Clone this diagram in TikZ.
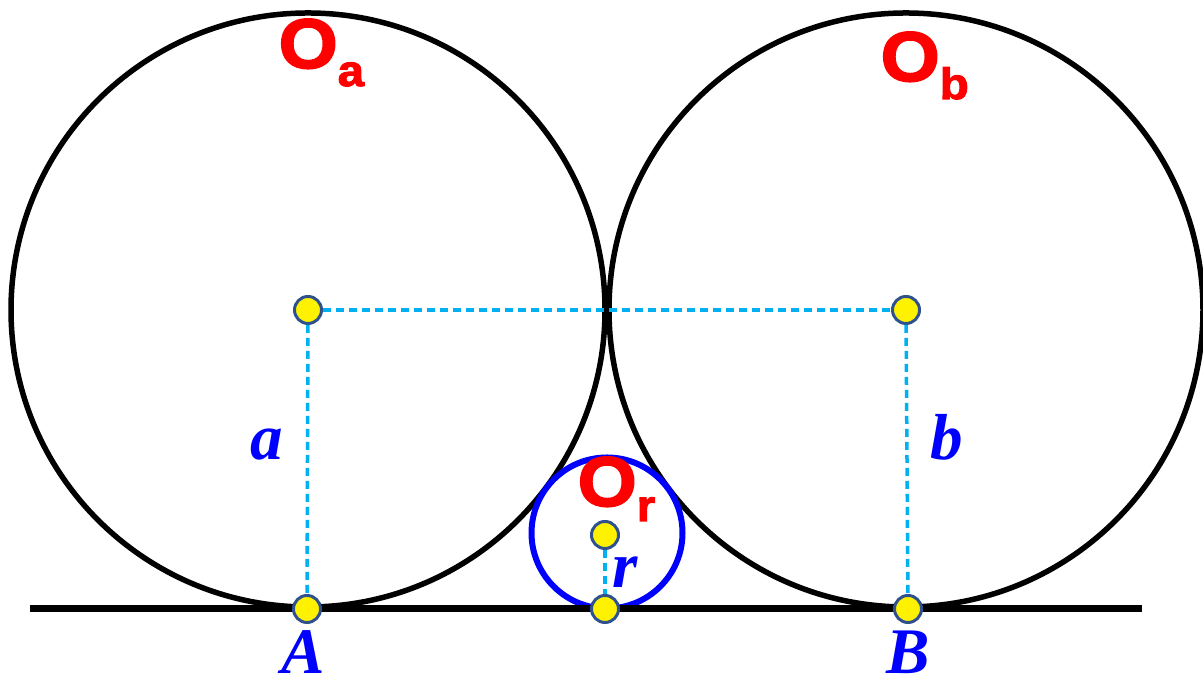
\documentclass[tikz,border=0pt]{standalone}
\usepackage{fontspec}
\newfontfamily\labsf{Liberation Sans}[BoldFeatures={FakeBold=2.5,FakeStretch=1.08}]
\newfontfamily\labit{Liberation Serif}
\definecolor{dashcyan}{RGB}{0,176,240}
\definecolor{dotedge}{RGB}{47,82,143}

\begin{document}
\begin{tikzpicture}[
  dot/.style={circle, fill=yellow, draw=dotedge, line width=0.03cm, minimum size=0.27cm, inner sep=0pt},
  guide/.style={draw=dashcyan, line width=0.035cm, dash pattern=on 0.08cm off 0.05cm},
  cname/.style={text=red, font=\labsf\bfseries\fontsize{20}{20}\selectfont, inner sep=0pt, anchor=base west},
  len/.style={text=blue, font=\labit\bfseries\itshape\fontsize{18.5}{19}\selectfont, inner sep=0pt, anchor=base}
]
\useasboundingbox (0,0) rectangle (12.03,6.85);
% the two big circles and the small one
\draw[line width=0.055cm] (3.08,3.75) circle (2.97);
\draw[line width=0.055cm] (9.06,3.75) circle (2.97);
\draw[blue, line width=0.06cm] (6.07,1.52) circle (0.755);
\draw[line width=0.07cm] (0.30,0.76) -- (11.42,0.76);
% centres and touching points
\node[dot] (ca) at (3.08,3.75) {};
\node[dot] (cb) at (9.06,3.75) {};
\node[dot] (cr) at (6.05,1.50) {};
\node[dot] (ta) at (3.07,0.76) {};
\node[dot] (tb) at (9.08,0.76) {};
\node[dot] (tr) at (6.05,0.76) {};
\draw[guide] (ca) -- (cb);
\draw[guide] (ca) -- (ta);
\draw[guide] (cb) -- (tb);
\draw[guide] (cr) -- (tr);
% labels
\node[cname] (na) at (2.78,6.17) {O\raisebox{-0.18cm}{\fontsize{12.5}{12}\selectfont a}};
\node[cname] (nb) at (8.80,6.04) {O\raisebox{-0.18cm}{\fontsize{12.5}{12}\selectfont b}};
\node[cname] (nr) at (5.77,1.79) {O\raisebox{-0.15cm}{\fontsize{12.5}{12}\selectfont r}};
\node[len] (la) at (2.67,2.25) {a};
\node[len] (lb) at (9.47,2.25) {b};
\node[len] (lr) at (6.25,0.97) {r};
\node[len] (lA) at (3.03,0.11) {A};
\node[len] (lB) at (9.08,0.11) {B};
\end{tikzpicture}
\end{document}
